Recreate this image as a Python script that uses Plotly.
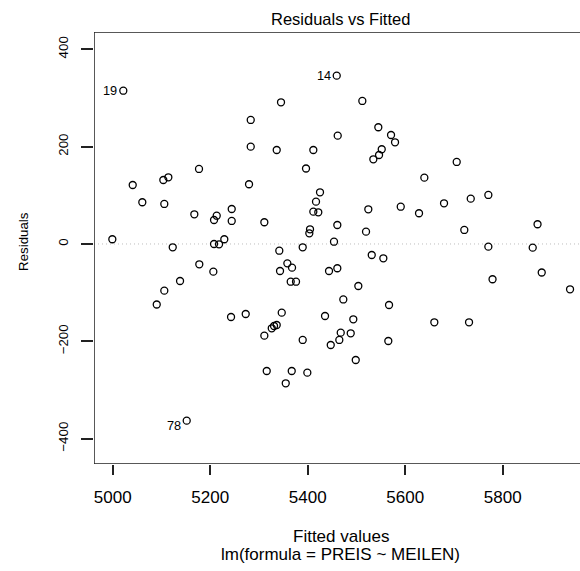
import plotly.graph_objects as go

# Fitted values and residuals (point 0 = obs 19, 1 = obs 14, 2 = obs 78)
fitted = [5021.7, 5459.5, 5151.8, 5345.2, 5512.0, 5283.1, 5544.8, 5570.9, 5579.1, 5461.5,
          5283.1, 5336.4, 5411.5, 5551.8, 5546.3, 5534.6, 5396.5, 5705.6, 5177.0, 5041.0,
          5103.8, 5114.1, 5060.7, 5105.8, 5167.4, 5213.3, 5207.8, 5244.1, 5244.1, 4999.2,
          5228.9, 5207.8, 5218.1, 5123.1, 5177.6, 5206.4, 5138.1, 5105.8, 5090.3, 5279.6,
          5311.0, 5425.2, 5417.0, 5411.5, 5421.7, 5524.3, 5590.8, 5460.7, 5404.7, 5403.3,
          5519.6, 5453.9, 5389.7, 5341.7, 5531.3, 5555.1, 5358.2, 5367.8, 5343.2, 5443.7,
          5460.7, 5365.1, 5376.0, 5503.8, 5473.0, 5566.8, 5639.2, 5628.3, 5679.6, 5734.4,
          5770.5, 5721.2, 5871.4, 5770.5, 5861.5, 5880.0, 5779.1, 5938.1, 5242.7, 5272.8,
          5346.7, 5326.2, 5330.9, 5336.4, 5311.0, 5389.7, 5435.5, 5493.5, 5467.7, 5488.2,
          5464.8, 5447.2, 5565.3, 5498.5, 5315.9, 5367.2, 5399.2, 5354.9, 5659.7, 5730.9]
residuals = [314.9, 345.8, -363.0, 291.1, 293.8, 254.8, 239.8, 223.9, 208.9, 222.5,
             199.9, 193.1, 193.1, 194.6, 182.8, 174.0, 155.1, 168.5, 154.1, 121.2,
             131.5, 137.0, 85.7, 82.2, 61.0, 58.1, 49.3, 71.9, 47.3, 9.7,
             9.7, 0.0, -0.6, -6.8, -41.7, -56.9, -76.0, -95.9, -124.3, 122.7,
             44.6, 106.2, 86.9, 66.4, 65.1, 71.3, 76.6, 39.0, 30.2, 22.0,
             25.3, 4.7, -6.8, -13.8, -22.6, -29.4, -39.7, -48.7, -55.5, -55.5,
             -49.9, -77.5, -77.5, -86.3, -114.0, -125.3, 136.2, 63.1, 83.6, 93.1,
             100.7, 28.8, 40.5, -5.5, -7.6, -58.6, -72.5, -93.1, -150.0, -143.8,
             -141.1, -173.2, -168.5, -166.4, -188.4, -197.2, -147.9, -154.7, -182.2, -183.5,
             -197.2, -207.5, -199.3, -238.3, -260.9, -260.9, -264.4, -286.2, -160.9, -160.9]
label_index = [0, 1, 2]
label_text = ["19", "14", "78"]
label_dy = [0, 0, -5]

x_ticks = [5000, 5200, 5400, 5600, 5800]
y_ticks = [-400, -200, 0, 200, 400]
x_range = [4961.6, 5958.5]
y_range = [-452.0, 435.5]

FONT = "Liberation Sans, Arial, Helvetica, sans-serif"

fig = go.Figure()
fig.add_trace(go.Scatter(
    x=fitted, y=residuals, mode="markers",
    marker=dict(symbol="circle-open", size=7, color="black", line=dict(width=1.3, color="black")),
    hoverinfo="x+y", showlegend=False, cliponaxis=False))

# zero reference line (dotted grey)
fig.add_shape(type="line", xref="paper", yref="y", x0=0, x1=1, y0=0, y1=0,
              line=dict(color="#BEBEBE", width=1, dash="1px,3px"), layer="below")

# plot box: left, top and bottom sides (right side lies outside the page, as in the reference)
fig.add_trace(go.Scatter(
    x=[x_range[1], x_range[0], x_range[0], x_range[1]],
    y=[y_range[1], y_range[1], y_range[0], y_range[0]],
    mode="lines", line=dict(color="#222222", width=1.5),
    hoverinfo="skip", showlegend=False, cliponaxis=False))

annotations = []
for i, t, dy in zip(label_index, label_text, label_dy):
    annotations.append(dict(x=fitted[i], y=residuals[i], xref="x", yref="y", text=t,
                            showarrow=False, xanchor="right", yanchor="middle",
                            xshift=-4, yshift=dy,
                            font=dict(family=FONT, size=12.75, color="black")))

annotations += [
    dict(text="Residuals vs Fitted", xref="paper", yref="paper", x=0.508, y=1,
         yshift=13.5, xanchor="center", yanchor="middle", showarrow=False,
         font=dict(family=FONT, size=16.5, color="black")),
    dict(text="Fitted values", xref="paper", yref="paper", x=0.508, y=0,
         yshift=-72.5, xanchor="center", yanchor="middle", showarrow=False,
         font=dict(family=FONT, size=17, color="black")),
    dict(text="lm(formula = PREIS ~ MEILEN)", xref="paper", yref="paper", x=0.508, y=0,
         yshift=-90, xanchor="center", yanchor="middle", showarrow=False,
         font=dict(family=FONT, size=17, color="black")),
    dict(text="Residuals", xref="paper", yref="paper", x=-0.144, y=0.514,
         xanchor="center", yanchor="middle", textangle=-90, showarrow=False,
         font=dict(family=FONT, size=13.3, color="black")),
]

fig.update_layout(
    width=580, height=571,
    margin=dict(l=94, r=0, t=32, b=107, pad=0),
    paper_bgcolor="white", plot_bgcolor="white",
    font=dict(family=FONT, color="black"),
    annotations=annotations,
    xaxis=dict(range=x_range, tickvals=x_ticks, ticks="outside", ticklen=10,
               tickwidth=1.5, tickcolor="#222222", showline=False,
               showgrid=False, zeroline=False,
               tickfont=dict(family=FONT, size=17, color="black"), ticklabelstandoff=8),
    yaxis=dict(range=y_range, tickvals=y_ticks, ticks="outside", ticklen=12,
               tickwidth=1.5, tickcolor="#222222", showline=False,
               showgrid=False, zeroline=False, tickangle=-90,
               tickfont=dict(family=FONT, size=13.3, color="black"), ticklabelstandoff=8),
)

fig.write_html("out.html", config={"displayModeBar": False},
               post_script="document.body.style.margin='0px';")
